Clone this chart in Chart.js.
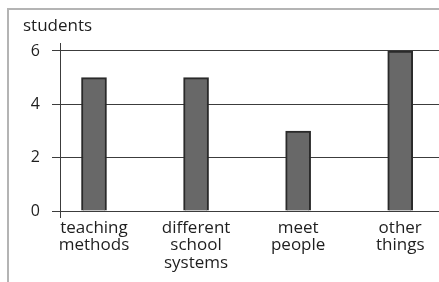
<!DOCTYPE html>
<html>
<head>
<meta charset="utf-8">
<script src="https://cdn.jsdelivr.net/npm/chart.js@4"></script>
<style>
  html, body { margin: 0; padding: 0; background: #fff; overflow: hidden; }
  #wrap { position: relative; width: 439px; height: 282px; }
  #frame { position: absolute; left: 7px; top: 8px; width: 460px; height: 300px;
           border-top: 2px solid #b4b4b4; border-left: 2px solid #b4b4b4; box-sizing: border-box; }
  canvas { position: absolute; left: 0; top: 0; }
</style>
</head>
<body>
<div id="wrap">
  <div id="frame"></div>
  <canvas id="c" width="439" height="282"></canvas>
</div>
<script>
const categories = [
  ["teaching", "methods"],
  ["different", "school", "systems"],
  ["meet", "people"],
  ["other", "things"]
];
const students = [5, 5, 3, 6];
const yTicks = [0, 2, 4, 6];
const yTitle = "students";

const FONT = "'Open Sans', sans-serif";
const TEXT = "#1e1e1e";
const LINE = "#3c3c3c";

const titlePlugin = {
  id: 'unitLabel',
  afterDraw(chart) {
    const ctx = chart.ctx, a = chart.chartArea;
    ctx.save();
    ctx.font = "17px " + FONT;
    ctx.fillStyle = TEXT;
    ctx.textAlign = 'left';
    ctx.textBaseline = 'alphabetic';
    ctx.fillText(yTitle, a.left - 37, a.top - 12);
    ctx.restore();
  }
};

new Chart(document.getElementById('c'), {
  type: 'bar',
  data: {
    datasets: [{
      data: students.map((v, i) => ({ x: i, y: v })),
      backgroundColor: '#686868',
      borderColor: '#2a2a2a',
      borderWidth: 2,
      barThickness: 25
    }]
  },
  options: {
    responsive: false,
    animation: false,
    devicePixelRatio: 1,
    layout: { padding: { top: 43, left: 0, right: 0, bottom: 0 } },
    plugins: { legend: { display: false }, tooltip: { enabled: false }, title: { display: false } },
    scales: {
      x: {
        type: 'linear',
        offset: false,
        min: -0.333,
        max: 3.38,
        grid: { display: false, drawTicks: false, tickLength: 0, offset: false },
        border: { display: false },
        afterBuildTicks: s => { s.ticks = categories.map((_, i) => ({ value: i })); },
        afterFit: s => { s.height = 65; },
        ticks: {
          autoSkip: false, maxRotation: 0, minRotation: 0,
          callback: v => categories[v],
          font: { family: FONT, size: 17, lineHeight: 1.03 },
          color: TEXT,
          padding: 2
        }
      },
      y: {
        min: -0.225,
        max: 6.3,
        afterBuildTicks: s => { s.ticks = yTicks.map(v => ({ value: v })); },
        afterFit: s => { s.width = 60; },
        grid: { color: LINE, lineWidth: 1, tickLength: 8 },
        border: { color: LINE, width: 1 },
        ticks: {
          font: { family: FONT, size: 16 },
          color: TEXT,
          padding: 12
        }
      }
    }
  },
  plugins: [titlePlugin]
});
</script>
</body>
</html>
